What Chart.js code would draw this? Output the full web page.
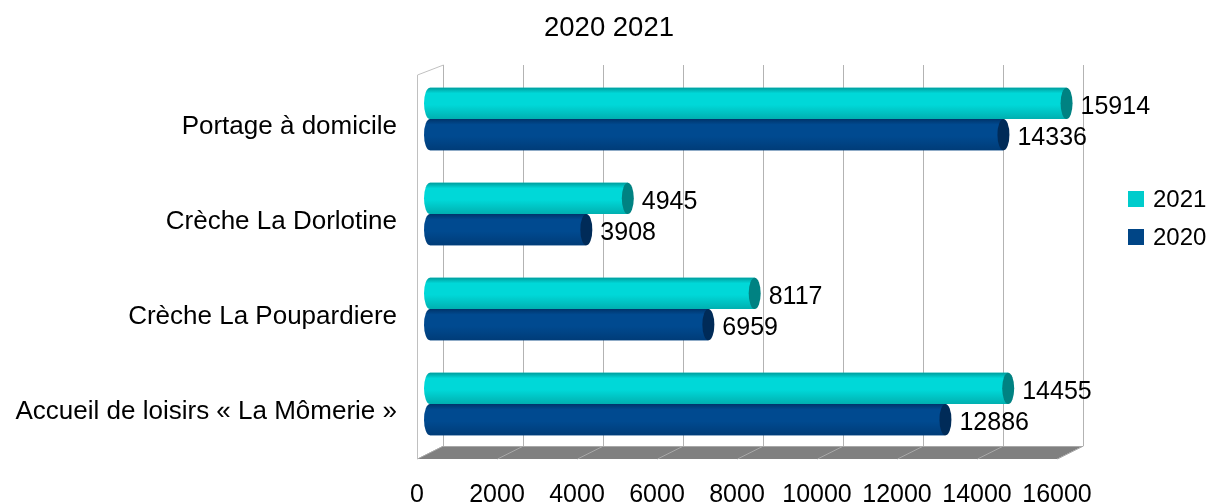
<!DOCTYPE html>
<html>
<head>
<meta charset="utf-8">
<script src="https://cdn.jsdelivr.net/npm/chart.js@4.4.1/dist/chart.umd.min.js"></script>
<style>
  html, body { margin: 0; padding: 0; background: #fff; }
  canvas { display: block; }
</style>
</head>
<body>
<canvas id="graf" width="1209" height="502"></canvas>
<script>
const categorias = ["Portage à domicile", "Crèche La Dorlotine", "Crèche La Poupardiere", "Accueil de loisirs « La Mômerie »"];
const valores2021 = [15914, 4945, 8117, 14455];
const valores2020 = [14336, 3908, 6959, 12886];
const ticksX = [0, 2000, 4000, 6000, 8000, 10000, 12000, 14000, 16000];
const titulo = "2020 2021";

const FONTE = "'Liberation Sans', Arial, sans-serif";
const PROF = 13; // meio-profundidade do efeito 3D

const cores = [
  { plana: "#00cccc", topo: "#009c9c", meio: "#00d8d8", base: "#00b0b0", tampa: "#008282" },
  { plana: "#004586", topo: "#00346a", meio: "#004a90", base: "#003c78", tampa: "#002b58" }
];

// paredes, piso, grade, cilindros, valores e legenda
const cenario3d = {
  id: "cenario3d",
  beforeDatasetsDraw(chart) {
    const { ctx, chartArea: a } = chart;
    const x = chart.scales.x;
    const topoFundo = a.top - 6.5;
    const pisoFundo = a.bottom - 5.5;
    const pisoFrente = a.bottom + 7.5;
    ctx.save();
    // piso
    ctx.fillStyle = "#808080";
    ctx.beginPath();
    ctx.moveTo(x.getPixelForValue(0) + PROF, pisoFundo);
    ctx.lineTo(x.getPixelForValue(16000) + PROF, pisoFundo);
    ctx.lineTo(x.getPixelForValue(16000) - PROF, pisoFrente);
    ctx.lineTo(x.getPixelForValue(0) - PROF, pisoFrente);
    ctx.closePath();
    ctx.fill();
    ctx.strokeStyle = "#a8a8a8";
    ctx.lineWidth = 1;
    ticksX.forEach(v => {
      const px = Math.round(x.getPixelForValue(v)) + 0.5;
      ctx.beginPath();
      ctx.moveTo(px + PROF, pisoFundo);
      ctx.lineTo(px - PROF, pisoFrente);
      ctx.stroke();
    });
    ctx.beginPath();
    ctx.moveTo(x.getPixelForValue(0) + PROF, pisoFundo + 0.5);
    ctx.lineTo(x.getPixelForValue(16000) + PROF, pisoFundo + 0.5);
    ctx.stroke();
    // grade na parede do fundo
    ctx.strokeStyle = "#b3b3b3";
    ticksX.forEach(v => {
      const px = Math.round(x.getPixelForValue(v)) + 0.5 + PROF;
      ctx.beginPath();
      ctx.moveTo(px, topoFundo);
      ctx.lineTo(px, pisoFundo);
      ctx.stroke();
    });
    // parede esquerda
    const xf = Math.round(x.getPixelForValue(0)) - PROF + 0.5;
    ctx.strokeStyle = "#c0c0c0";
    ctx.beginPath();
    ctx.moveTo(xf, pisoFrente);
    ctx.lineTo(xf, topoFundo + 10);
    ctx.lineTo(xf + 2 * PROF, topoFundo);
    ctx.stroke();
    ctx.restore();
  },
  afterDatasetsDraw(chart) {
    const { ctx } = chart;
    ctx.save();
    chart.data.datasets.forEach((ds, i) => {
      const c = cores[i];
      chart.getDatasetMeta(i).data.forEach((el, j) => {
        const h = el.height, cy = el.y;
        const top = cy - h / 2, bot = cy + h / 2;
        const rx = 6, ry = h / 2;
        const g = ctx.createLinearGradient(0, top, 0, bot);
        g.addColorStop(0, c.topo);
        g.addColorStop(0.18, c.meio);
        g.addColorStop(0.55, c.meio);
        g.addColorStop(1, c.base);
        ctx.fillStyle = g;
        ctx.beginPath();
        ctx.moveTo(el.base, top);
        ctx.lineTo(el.x, top);
        ctx.lineTo(el.x, bot);
        ctx.lineTo(el.base, bot);
        ctx.ellipse(el.base, cy, rx, ry, 0, Math.PI / 2, Math.PI * 1.5);
        ctx.closePath();
        ctx.fill();
        ctx.fillStyle = c.tampa;
        ctx.beginPath();
        ctx.ellipse(el.x, cy, rx, ry, 0, 0, Math.PI * 2);
        ctx.fill();
        ctx.fillStyle = "#000";
        ctx.font = "25px " + FONTE;
        ctx.textAlign = "left";
        ctx.textBaseline = "middle";
        ctx.fillText(String(ds.data[j]), el.x + 14, cy + 3.5);
      });
    });
    ctx.restore();
  },
  afterDraw(chart) {
    const { ctx } = chart;
    const x = chart.scales.x;
    ctx.save();
    ctx.fillStyle = "#000";
    ctx.textBaseline = "middle";
    ctx.textAlign = "center";
    ctx.font = "27.5px " + FONTE;
    ctx.fillText(titulo, 609, 28);
    ctx.font = "25px " + FONTE;
    ticksX.forEach(v => ctx.fillText(String(v), x.getPixelForValue(v) - PROF, 495));
    // legenda
    ctx.font = "24px " + FONTE;
    ctx.textAlign = "left";
    chart.data.datasets.forEach((ds, i) => {
      const y = 199 + i * 38;
      ctx.fillStyle = ds.backgroundColor;
      ctx.fillRect(1128, y - 8, 16, 16);
      ctx.fillStyle = "#000";
      ctx.fillText(ds.label, 1153, y + 1);
    });
    ctx.restore();
  }
};

new Chart(document.getElementById("graf"), {
  type: "bar",
  data: {
    labels: categorias,
    datasets: [
      { label: "2021", data: valores2021, backgroundColor: cores[0].plana },
      { label: "2020", data: valores2020, backgroundColor: cores[1].plana }
    ]
  },
  options: {
    indexAxis: "y",
    responsive: false,
    animation: false,
    barPercentage: 1,
    categoryPercentage: 0.66,
    layout: { padding: { left: 0, right: 139, top: 71.5, bottom: 50.5 } },
    scales: {
      x: { min: 0, max: 16000, display: false },
      y: {
        grid: { display: false, drawTicks: false },
        border: { display: false },
        ticks: { color: "#000", font: { family: FONTE, size: 26 }, padding: 33, labelOffset: 8 },
        afterFit: s => { s.width = 430; }
      }
    },
    plugins: {
      legend: { display: false },
      tooltip: { enabled: false },
      title: { display: false }
    }
  },
  plugins: [cenario3d]
});
</script>
</body>
</html>
